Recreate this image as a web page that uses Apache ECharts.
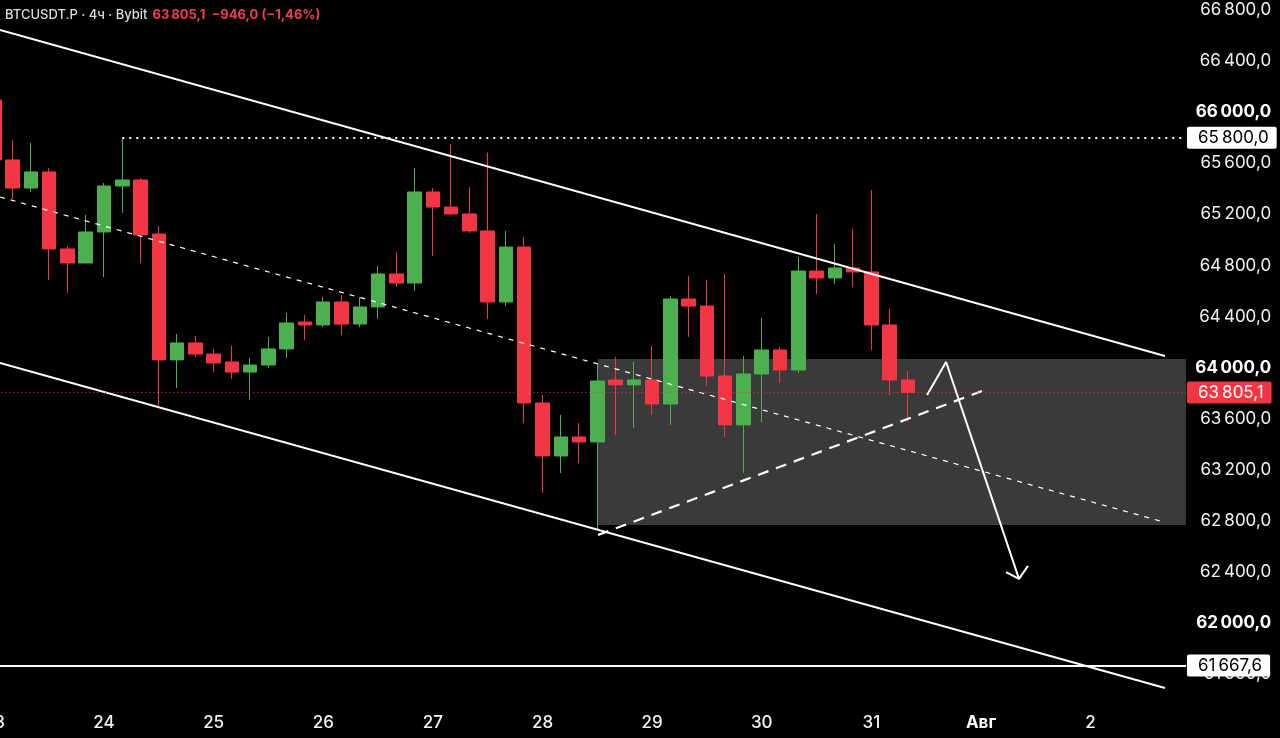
<!DOCTYPE html>
<html>
<head>
<meta charset="utf-8">
<title>BTCUSDT.P 4h</title>
<script src="https://cdn.jsdelivr.net/npm/echarts@6/dist/echarts.min.js"></script>
<style>
  html, body { margin: 0; padding: 0; background: #000; }
  #chart { width: 1280px; height: 738px; }
</style>
</head>
<body>
<div id="chart"></div>
<script>
// x axis: one category per 4h candle, a day label every 6th bar
const dayLabels = ['23', '24', '25', '26', '27', '28', '29', '30', '31', 'Авг', '2'];
const hours = ['00:00', '04:00', '08:00', '12:00', '16:00', '20:00'];

// candles (first one only half visible)
const opens = [66095, 65626, 65406, 65532, 64929, 64819, 65062, 65422, 65469, 65046,
  64060, 64193, 64106, 64044, 63965, 64020, 64146, 64357, 64334, 64514,
  64341, 64475, 64733, 64662, 65375, 65257, 65203, 65070, 64514, 64944,
  63723, 63308, 63457, 63418, 63903, 63864, 63903, 63715, 64537, 64482,
  63934, 63551, 63950, 64138, 63981, 64756, 64702, 64780, 64749, 64334, 63903];
const closes = [65626, 65406, 65532, 64929, 64819, 65062, 65422, 65469, 65038, 64060,
  64193, 64106, 64036, 63965, 64020, 64146, 64349, 64334, 64514, 64341,
  64475, 64733, 64662, 65375, 65257, 65203, 65070, 64514, 64944, 63723,
  63308, 63457, 63418, 63895, 63864, 63903, 63715, 64537, 64482, 63934,
  63551, 63950, 64138, 63981, 64756, 64702, 64780, 64749, 64334, 63903, 63805.1];
const lows = [65586, 65320, 65375, 64686, 64584, 64819, 64709, 65211, 64819, 63699,
  63840, 64083, 63965, 63911, 63746, 63997, 64075, 64216, 64318, 64255,
  64318, 64381, 64631, 64600, 64874, 65195, 65054, 64381, 64482, 63566,
  63018, 63175, 63253, 62728, 63472, 63527, 63629, 63551, 64240, 63856,
  63457, 63175, 63574, 63879, 63958, 64576, 64655, 64631, 64138, 63785, 63574];
const highs = [66134, 65782, 65759, 65563, 64950, 65195, 65445, 65790, 65485, 65109,
  64263, 64247, 64146, 64169, 64075, 64240, 64428, 64412, 64553, 64568,
  64553, 64796, 64905, 65563, 65406, 65750, 65413, 65684, 65070, 65023,
  63785, 63629, 63566, 64036, 64083, 64044, 64169, 64560, 64717, 64686,
  64733, 64091, 64388, 64161, 64866, 65203, 64968, 65086, 65391, 64459, 63973];

// price scale
const priceTicks = [61600, 62000, 62400, 62800, 63200, 63600, 64000, 64400,
  64800, 65200, 65600, 66000, 66400, 66800];
const boldTicks = [62000, 64000, 66000];
const priceMin = 61357.9;
const priceMax = 66878.3;

// drawings, as [bar index, price]; bar 0 is the first 00:00 bar of the 24th
const upperChannel = [[-5.69, 66643], [58.07, 64091]];
const lowerChannel = [[-5.69, 64036], [58.07, 61491]];
const midLine = [[-5.69, 65336], [57.8, 62799]];
const riseLine = [[27.04, 62689], [48.22, 63825]];
const arrowPath = [[45.05, 63785], [46.09, 64044], [50.08, 62345]];
const arrowHead = [[49.37, 62399], [50.08, 62345], [50.57, 62447]];
const zoneBox = [[27.04, 64067], [59.22, 62767]];
const resistance = 65800;
const resistanceFrom = 1;
const support = 61667.6;
const lastPrice = 63805.1;

const GREEN = '#4caf50';
const RED = '#f23645';
const FONT = 'Inter, Roboto, sans-serif';

const categories = [];
dayLabels.forEach(d => hours.forEach(h => categories.push(d + ' ' + h)));
const candles = opens.map((o, i) => [o, closes[i], lows[i], highs[i]]);
const firstBar = -6;
const lastBar = categories.length + firstBar - 1;
const rightEdge = zoneBox[1][0];

function fmt(v) {
  const [i, d] = v.toFixed(1).split('.');
  return i.slice(0, -3) + '\u2009' + i.slice(-3) + ',' + d;
}

function level(price, from, color, width, type, bg, fg) {
  return [{
    coord: [from, price],
    lineStyle: { color: color, width: width, type: type },
    label: {
      show: true, position: 'end', distance: 1,
      formatter: fmt(price),
      backgroundColor: bg, color: fg,
      fontFamily: FONT, fontSize: 17,
      padding: [3, 8, 2, 11], borderRadius: 2
    }
  }, { coord: [rightEdge, price] }];
}

function drawing(data, width, type) {
  return {
    type: 'line', xAxisIndex: 1, data: data, symbol: 'none', z: 4,
    silent: true, animation: false,
    lineStyle: { color: '#ffffff', width: width, type: type || 'solid' }
  };
}

const chart = echarts.init(document.getElementById('chart'), null, { renderer: 'canvas' });

chart.setOption({
  backgroundColor: '#000000',
  animation: false,
  title: {
    left: 5, top: 6, padding: 0,
    text: '{a|BTCUSDT.P · 4ч · Bybit} {b|' + fmt(lastPrice) + '  \u2212946,0 (\u22121,46%)}',
    textStyle: {
      rich: {
        a: { color: '#dcdcdc', fontSize: 13, fontFamily: FONT, fontWeight: 500 },
        b: { color: '#e8404f', fontSize: 13, fontFamily: FONT }
      }
    }
  },
  grid: {
    left: -14.76, right: 88.9, top: 0, bottom: 33,
    outerBoundsMode: 'none'
  },
  xAxis: [{
    type: 'category',
    data: categories,
    boundaryGap: true,
    axisLine: { show: false },
    axisTick: { show: false },
    splitLine: { show: false },
    axisLabel: {
      interval: 5,
      margin: 9,
      color: '#f2f2f2',
      fontFamily: FONT,
      fontSize: 17,
      fontWeight: 500,
      formatter: v => {
        const d = v.split(' ')[0];
        return d === 'Авг' ? '{b|' + d + '}' : d;
      },
      rich: { b: { fontWeight: 'bold', fontSize: 17, color: '#ffffff', fontFamily: FONT } }
    }
  }, {
    type: 'value',
    show: false,
    min: firstBar - 0.5,
    max: lastBar + 0.5
  }],
  yAxis: {
    type: 'value',
    position: 'right',
    min: priceMin,
    max: priceMax,
    splitLine: { show: false },
    axisLine: { show: false },
    axisTick: { show: false },
    axisLabel: {
      customValues: priceTicks,
      margin: 80,
      align: 'right',
      color: '#f2f2f2',
      fontFamily: FONT,
      fontSize: 17,
      formatter: v => boldTicks.includes(v) ? '{b|' + fmt(v) + '}' : fmt(v),
      rich: { b: { fontWeight: 'bold', fontSize: 17, color: '#ffffff', fontFamily: FONT } }
    }
  },
  series: [
    {
      // shaded range box
      type: 'line', xAxisIndex: 1, data: zoneBox, symbol: 'none', z: 1,
      silent: true, lineStyle: { width: 0, opacity: 0 },
      markArea: {
        silent: true,
        itemStyle: { color: '#3a3a3a' },
        data: [[{ coord: zoneBox[0] }, { coord: zoneBox[1] }]]
      }
    },
    {
      // horizontal levels with their price tags
      type: 'line', xAxisIndex: 1, data: [], symbol: 'none', z: 2, clip: false,
      silent: true,
      markLine: {
        silent: true, symbol: ['none', 'none'], animation: false,
        data: [
          level(lastPrice, firstBar - 0.5, RED, 1, [1, 3], RED, '#ffffff'),
          level(resistance, resistanceFrom, '#ffffff', 2, [2, 5], '#ffffff', '#000000'),
          level(support, firstBar - 0.5, '#ffffff', 2, 'solid', '#ffffff', '#000000')
        ]
      }
    },
    {
      type: 'candlestick',
      xAxisIndex: 0,
      data: candles,
      barWidth: 14,
      z: 3,
      itemStyle: {
        color: GREEN, color0: RED,
        borderColor: GREEN, borderColor0: RED,
        borderWidth: 1
      }
    },
    drawing(upperChannel, 2),
    drawing(lowerChannel, 2),
    drawing(midLine, 1.2, [5, 6]),
    drawing(riseLine, 2.2, [11, 8]),
    drawing(arrowPath, 2),
    drawing(arrowHead, 2)
  ]
});
</script>
</body>
</html>
